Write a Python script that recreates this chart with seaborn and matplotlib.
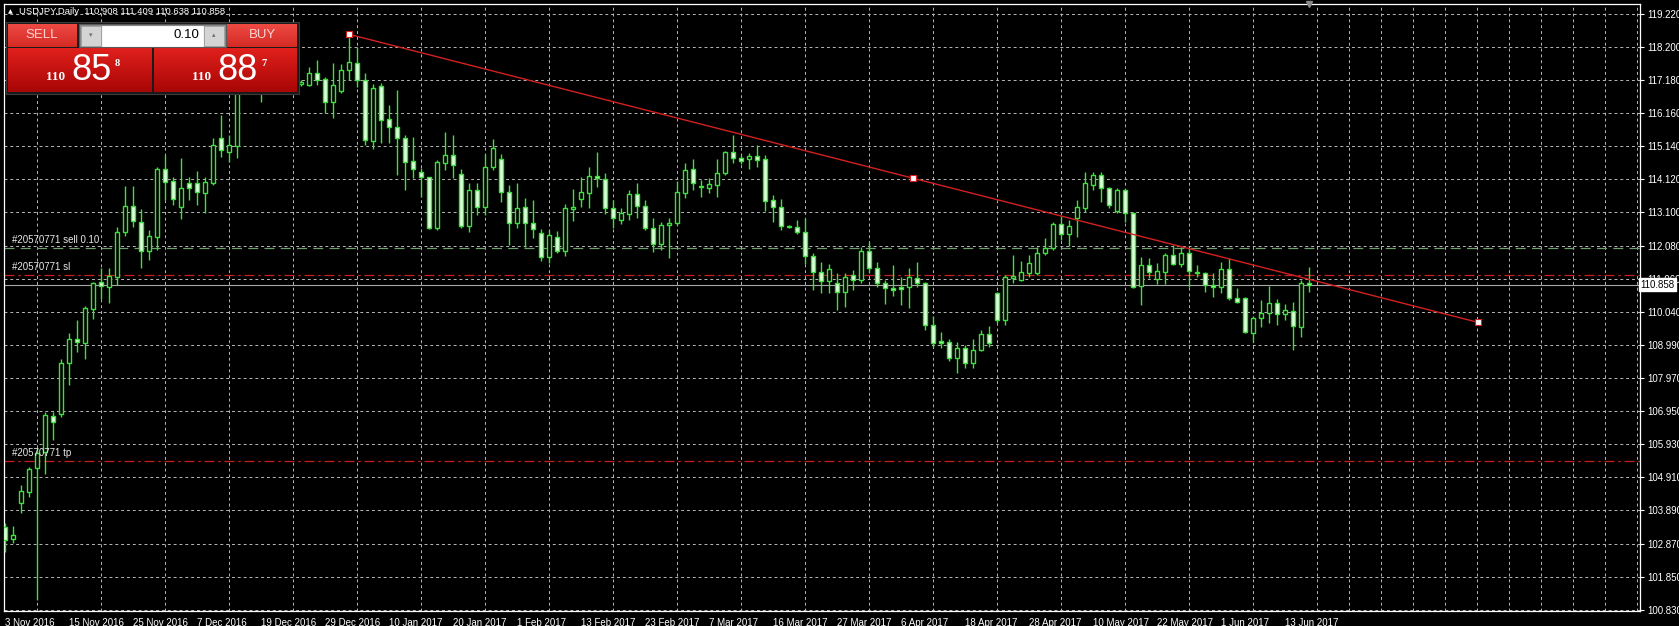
"""
USDJPY daily chart, MT4 look (black background, green candles, trade panel)
"""

import numpy as np
import pandas as pd
import matplotlib
matplotlib.use("Agg")
import matplotlib.pyplot as plt
import seaborn as sns
from matplotlib.colors import LinearSegmentedColormap
from matplotlib.transforms import blended_transform_factory, ScaledTranslation

sns.set_style("dark")
plt.rcParams['font.family'] = ['Liberation Sans', 'DejaVu Sans']

# ---- data ----
opens = [
    103.39, 103.00, 104.11, 104.47, 105.19, 105.71, 106.82, 106.87, 108.43, 109.17,
    109.07, 110.12, 110.93, 110.80, 111.11, 112.50, 113.30, 112.81, 111.91, 112.34,
    114.42, 114.06, 113.27, 113.99, 113.99, 113.70, 113.99, 115.38, 114.97, 115.14,
    117.00, 118.10, 117.90, 116.90, 117.60, 117.55, 117.45, 117.06, 117.02, 117.39,
    117.20, 116.51, 116.85, 117.49, 117.71, 117.18, 115.31, 116.99, 115.99, 115.72,
    115.38, 114.69, 114.33, 114.17, 112.60, 114.63, 114.86, 114.27, 112.67, 113.78,
    113.27, 114.50, 114.74, 113.73, 112.78, 113.25, 112.78, 112.45, 111.71, 112.34,
    111.91, 113.21, 113.51, 113.70, 114.23, 114.11, 113.22, 112.86, 113.04, 113.65,
    113.30, 112.60, 112.12, 112.70, 112.78, 113.70, 114.42, 113.88, 113.86, 113.94,
    114.30, 114.95, 114.76, 114.75, 114.83, 114.73, 113.47, 113.27, 112.66, 112.63,
    112.50, 111.76, 111.26, 110.99, 110.90, 110.65, 111.16, 111.01, 111.91, 111.37,
    110.90, 110.75, 110.80, 110.80, 111.06, 110.92, 109.62, 109.13, 109.10, 108.60,
    108.90, 108.45, 108.85, 109.35, 110.59, 109.77, 111.08, 111.01, 111.21, 111.21,
    111.83, 111.98, 112.73, 112.43, 112.91, 113.22, 113.94, 114.25, 113.84, 113.14,
    113.78, 113.08, 110.83, 111.47, 111.03, 111.26, 111.78, 111.50, 111.83, 111.25,
    111.23, 110.85, 110.80, 111.34, 110.44, 110.44, 109.38, 109.82, 109.98, 110.29,
    109.96, 110.06, 109.57, 110.908]
highs = [
    103.50, 103.41, 104.68, 105.22, 105.81, 106.94, 106.94, 108.56, 109.36, 109.77,
    110.20, 110.93, 111.37, 111.37, 112.65, 113.90, 113.90, 113.20, 112.55, 114.50,
    114.86, 114.19, 114.76, 114.18, 114.38, 114.19, 115.38, 116.10, 115.48, 117.20,
    118.66, 118.30, 118.00, 117.90, 118.00, 118.00, 117.60, 117.18, 117.59, 117.80,
    117.28, 117.69, 117.67, 118.60, 118.21, 117.40, 117.05, 117.10, 116.41, 116.87,
    115.48, 115.43, 114.45, 114.20, 114.71, 115.58, 115.48, 114.42, 113.99, 113.99,
    114.91, 115.35, 114.91, 113.94, 113.99, 113.53, 113.47, 112.57, 112.55, 112.53,
    113.35, 113.83, 114.17, 114.48, 114.95, 114.30, 113.47, 113.22, 113.78, 113.99,
    113.47, 112.91, 112.81, 112.91, 114.07, 114.61, 114.73, 114.09, 114.14, 114.73,
    115.00, 115.48, 114.86, 114.94, 115.17, 114.86, 113.63, 113.50, 112.70, 112.86,
    112.91, 111.83, 111.57, 111.50, 111.21, 111.21, 111.31, 112.01, 112.19, 111.57,
    111.01, 111.47, 111.11, 111.37, 111.57, 110.95, 109.89, 109.41, 109.20, 109.10,
    109.00, 109.20, 109.45, 109.60, 110.64, 111.16, 111.78, 111.60, 111.78, 112.03,
    112.29, 112.81, 112.98, 112.86, 113.48, 114.35, 114.35, 114.35, 113.89, 113.84,
    113.80, 113.12, 111.73, 111.70, 111.52, 111.83, 112.09, 112.03, 111.98, 111.47,
    111.26, 111.21, 111.57, 111.67, 110.75, 110.49, 109.90, 110.39, 110.82, 110.41,
    110.27, 110.34, 111.01, 111.409]
lows = [
    102.62, 102.88, 103.80, 104.32, 101.13, 105.02, 106.07, 106.79, 107.77, 108.79,
    108.56, 109.79, 110.41, 110.29, 110.85, 112.35, 112.65, 111.37, 111.62, 111.93,
    113.48, 113.32, 112.88, 113.48, 113.32, 113.08, 113.94, 114.81, 114.66, 114.76,
    116.90, 117.40, 116.50, 116.80, 117.40, 117.30, 117.00, 116.99, 116.99, 117.02,
    116.17, 116.00, 116.79, 117.18, 116.95, 115.17, 115.04, 115.22, 115.22, 114.25,
    113.78, 114.14, 113.58, 112.57, 112.55, 114.40, 114.14, 112.60, 112.50, 113.01,
    113.01, 114.40, 113.42, 112.09, 112.60, 112.03, 112.29, 111.60, 111.52, 111.83,
    111.75, 112.84, 113.27, 113.22, 113.87, 113.04, 112.60, 112.75, 112.86, 112.91,
    112.55, 111.88, 111.93, 111.68, 112.70, 113.55, 113.78, 113.56, 113.68, 113.56,
    114.25, 114.63, 114.59, 114.42, 114.50, 113.15, 112.81, 112.55, 112.60, 112.43,
    111.50, 110.70, 110.62, 110.62, 110.08, 110.18, 110.70, 110.90, 111.21, 110.80,
    110.27, 110.51, 110.24, 110.13, 110.80, 109.46, 108.95, 108.90, 108.50, 108.13,
    108.30, 108.30, 108.80, 108.95, 109.67, 109.62, 110.90, 110.99, 111.11, 111.16,
    111.78, 111.93, 112.24, 112.06, 112.34, 113.12, 113.78, 113.42, 113.22, 113.08,
    112.81, 110.75, 110.23, 111.06, 110.88, 110.88, 111.47, 111.42, 110.80, 111.11,
    110.65, 110.49, 110.59, 110.39, 110.29, 109.36, 109.10, 109.57, 109.67, 109.62,
    109.77, 108.85, 109.26, 110.638]
closes = [
    102.98, 103.14, 104.50, 105.17, 105.66, 106.84, 106.63, 108.43, 109.17, 109.08,
    110.13, 110.90, 110.82, 111.13, 112.50, 113.30, 112.82, 111.91, 112.36, 114.42,
    114.04, 113.50, 113.84, 113.84, 113.73, 114.02, 115.17, 115.02, 115.17, 117.00,
    118.10, 117.90, 116.90, 117.60, 117.55, 117.45, 117.10, 117.13, 117.39, 117.18,
    116.51, 117.02, 117.49, 117.75, 117.18, 115.33, 116.92, 115.96, 115.72, 115.38,
    114.66, 114.42, 114.17, 112.60, 114.66, 114.86, 114.55, 112.67, 113.78, 113.27,
    114.48, 115.07, 113.73, 112.78, 113.22, 112.78, 112.57, 111.71, 112.40, 111.91,
    113.22, 113.27, 113.71, 114.23, 114.14, 113.22, 112.91, 113.06, 113.65, 113.30,
    112.60, 112.12, 112.70, 112.78, 113.73, 114.40, 114.01, 113.91, 113.97, 114.30,
    114.95, 114.76, 114.69, 114.83, 114.71, 113.45, 113.27, 112.67, 112.64, 112.49,
    111.76, 111.26, 110.99, 111.34, 110.65, 111.11, 111.01, 111.91, 111.37, 110.90,
    110.75, 110.70, 110.72, 111.09, 110.92, 109.62, 109.05, 109.05, 108.60, 108.90,
    108.45, 108.85, 109.35, 109.05, 109.77, 111.11, 111.12, 111.26, 111.52, 111.83,
    111.98, 112.73, 112.43, 112.67, 113.27, 113.99, 114.25, 113.84, 113.32, 113.78,
    113.08, 110.80, 111.47, 111.26, 111.29, 111.78, 111.50, 111.83, 111.29, 111.23,
    110.85, 110.78, 111.34, 110.44, 110.34, 109.41, 109.82, 109.98, 110.31, 109.96,
    110.08, 109.59, 110.92, 110.858]

date_labels = ["3 Nov 2016", "15 Nov 2016", "25 Nov 2016", "7 Dec 2016", "19 Dec 2016",
               "29 Dec 2016", "10 Jan 2017", "20 Jan 2017", "1 Feb 2017", "13 Feb 2017",
               "23 Feb 2017", "7 Mar 2017", "16 Mar 2017", "27 Mar 2017", "6 Apr 2017",
               "18 Apr 2017", "28 Apr 2017", "10 May 2017", "22 May 2017", "1 Jun 2017",
               "13 Jun 2017"]
price_labels = ["100.830", "101.850", "102.870", "103.890", "104.910", "105.930",
                "106.950", "107.970", "108.990", "110.040", "111.060", "112.080",
                "113.100", "114.120", "115.140", "116.160", "117.180", "118.200", "119.220"]

# trendline anchors (bar index, price)
trend_bars = [43, 184.1]
trend_prices = [118.59, 109.70]

# order levels
order_id = "#20570771"
sell_price = 112.00
sl_price = 111.16
tp_price = 105.43
bid = 110.858
ask = 110.887
lot = "0.10"

df = pd.DataFrame({'open': opens, 'high': highs, 'low': lows, 'close': closes})
df['bar'] = np.arange(len(df))
df['bull'] = df['close'] >= df['open']

W, H = 1679, 626
fig = plt.figure(figsize=(W / 100, H / 100), dpi=100, facecolor='black')
ax = fig.add_axes([4 / W, 1 - 611 / H, (1640 - 4) / W, (611 - 4) / H])
ax.set_facecolor('black')

GREEN = '#3de03d'
BEAR_FILL = '#e4ffe4'
GRID = '#b8b8b8'

# candles
ax.vlines(df['bar'], df['low'], df['high'], color=GREEN, lw=1, zorder=3)
body_lo = df[['open', 'close']].min(axis=1)
body_h = (df['close'] - df['open']).abs().clip(lower=0.025)
bull = df['bull']
ax.bar(df['bar'][bull], body_h[bull], bottom=body_lo[bull], width=0.62,
       facecolor='black', edgecolor=GREEN, lw=1, zorder=4)
ax.bar(df['bar'][~bull], body_h[~bull], bottom=body_lo[~bull], width=0.62,
       facecolor=BEAR_FILL, edgecolor=GREEN, lw=1, zorder=4)

# trendline with its anchor points
trend = pd.DataFrame({'bar': trend_bars, 'price': trend_prices})
sns.lineplot(data=trend, x='bar', y='price', ax=ax, color='#d42020', lw=1, zorder=6)
anchors = pd.DataFrame({'bar': trend_bars + [np.mean(trend_bars)],
                        'price': trend_prices + [np.mean(trend_prices)]})
sns.scatterplot(data=anchors, x='bar', y='price', ax=ax, marker='s', s=14,
                color='white', edgecolor='#d42020', linewidth=0.8, zorder=7)

# order lines
ax.axhline(sell_price, color='#6f9d6f', lw=0.9, dashes=(8, 5), zorder=2)
ax.axhline(sl_price, color='#c81e1e', lw=0.9, dashes=(8, 3, 2, 3), zorder=2)
ax.axhline(tp_price, color='#c81e1e', lw=0.9, dashes=(8, 3, 2, 3), zorder=2)
ax.axhline(bid, color='#a8a8a8', lw=0.8, zorder=2)

tr = blended_transform_factory(ax.transAxes, ax.transData)
lbl_off = ScaledTranslation(0, 2 / 72, fig.dpi_scale_trans)
for txt, lvl in [(f"{order_id} sell {lot}", sell_price), (f"{order_id} sl", sl_price),
                 (f"{order_id} tp", tp_price)]:
    ax.text(0.0047, lvl, txt, transform=tr + lbl_off, color='#e8e8e8', fontsize=7,
            va='bottom', ha='left', zorder=8)

# axes, ticks, grid
n_bars = len(df)
ax.set_xlim(-0.125, 204.375)
ax.set_ylim(100.79, 119.525)
yt = np.linspace(100.83, 119.22, len(price_labels))
ax.set_yticks(yt)
ax.set_yticklabels(price_labels)
ax.yaxis.tick_right()
ax.set_xticks(np.arange(0, 8 * len(date_labels), 8))
ax.set_xticklabels(date_labels, ha='left')
ax.set_xticks(np.arange(0, 205, 4), minor=True)
for lab in ax.get_xticklabels():
    lab.set_transform(lab.get_transform() + ScaledTranslation(2 / 72, 0, fig.dpi_scale_trans))
ax.tick_params(axis='both', colors='white', labelcolor='white', labelsize=7,
               length=3, width=0.8, direction='out')
ax.tick_params(axis='x', pad=2)
ax.tick_params(axis='y', pad=2)
ax.tick_params(which='minor', length=0)
ax.grid(False)
ax.grid(True, which='minor', axis='x', color=GRID, lw=0.7, dashes=(3, 3), zorder=1)
ax.grid(True, which='major', axis='y', color=GRID, lw=0.7, dashes=(3, 3), zorder=1)
ax.set_axisbelow(True)
ax.set_xlabel('')
ax.set_ylabel('')
for sp in ax.spines.values():
    sp.set_color('white')
    sp.set_linewidth(0.9)

# bid box on the price axis
ax.text(1.0, bid, f"{bid:.3f}", transform=tr, color='black', fontsize=7,
        va='center', ha='left', zorder=9, clip_on=False,
        bbox=dict(boxstyle='square,pad=0.15', fc='white', ec='white'))

# chart shift marker
ax.plot(n_bars - 1, 119.525, marker='v', color='#8a8a8a', ms=5, clip_on=False, zorder=9)

# title
fig.text(8 / W, 1 - 12 / H, "\u25b2", color='white', fontsize=4.5, va='center',
         family='DejaVu Sans')
fig.text(19 / W, 1 - 12 / H,
         f"USDJPY,Daily  {opens[-1]:.3f} {highs[-1]:.3f} {lows[-1]:.3f} {closes[-1]:.3f}",
         color='white', fontsize=6.8, va='center')

# one-click trading panel (overlay in pixel space)
ov = fig.add_axes([0, 0, 1, 1], zorder=10)
ov.patch.set_alpha(0)
ov.axis('off')


def grad_box(x0, y0, x1, y1, top, bottom):
    cmap = LinearSegmentedColormap.from_list('g', [top, bottom])
    ov.imshow(np.linspace(0, 1, 64).reshape(-1, 1), extent=(x0, x1, y1, y0), cmap=cmap,
              aspect='auto', interpolation='bilinear', zorder=2)


ov.add_patch(plt.Rectangle((6, 22), 293, 72, fc='#1a1a1a', ec='#3a3a3a', lw=0.8, zorder=1))
grad_box(8, 24, 77, 47, '#ee4a44', '#d42a24')
grad_box(227, 24, 297, 47, '#ee4a44', '#d42a24')
grad_box(8, 48, 152, 92, '#e0201c', '#a80606')
grad_box(154, 48, 297, 92, '#e0201c', '#a80606')
ov.add_patch(plt.Rectangle((79, 24), 147, 23, fc='#8a8a8a', ec='#5a5a5a', lw=0.8, zorder=3))
ov.add_patch(plt.Rectangle((81, 25.5), 20, 20, fc='#d4d4d4', ec='#a0a0a0', lw=0.6, zorder=4))
ov.add_patch(plt.Rectangle((102, 25.5), 101, 20, fc='white', ec='white', lw=0.6, zorder=4))
ov.add_patch(plt.Rectangle((204, 25.5), 20, 20, fc='#d4d4d4', ec='#a0a0a0', lw=0.6, zorder=4))
ov.text(91, 35.5, "\u25be", color='#707070', fontsize=5, ha='center', va='center',
        family='DejaVu Sans', zorder=5)
ov.text(214, 35.5, "\u25b4", color='#707070', fontsize=5, ha='center', va='center',
        family='DejaVu Sans', zorder=5)
ov.text(199, 35.5, lot, color='black', fontsize=9.5, ha='right', va='center', zorder=5)
ov.text(42, 35.5, "SELL", color='#ffd6d4', fontsize=9.5, ha='center', va='center', zorder=5)
ov.text(262, 35.5, "BUY", color='#ffd6d4', fontsize=9.5, ha='center', va='center', zorder=5)


def price_text(x, price):
    s = f"{price:.3f}"
    big, pip, frac = s[:3], s[4:6], s[6]
    ov.text(x, 80, big, color='white', fontsize=9.5, fontweight='bold',
            family='Liberation Serif', ha='left', va='baseline', zorder=5)
    ov.text(x + 25, 80.5, pip, color='white', fontsize=26, family='Liberation Sans',
            ha='left', va='baseline', zorder=5)
    ov.text(x + 69, 66, frac, color='white', fontsize=7.5, fontweight='bold',
            family='Liberation Serif', ha='left', va='baseline', zorder=5)


price_text(46, bid)
price_text(192, ask)

ov.set_xlim(0, W)
ov.set_ylim(H, 0)

fig.savefig('out.png', dpi=100, facecolor='black')
